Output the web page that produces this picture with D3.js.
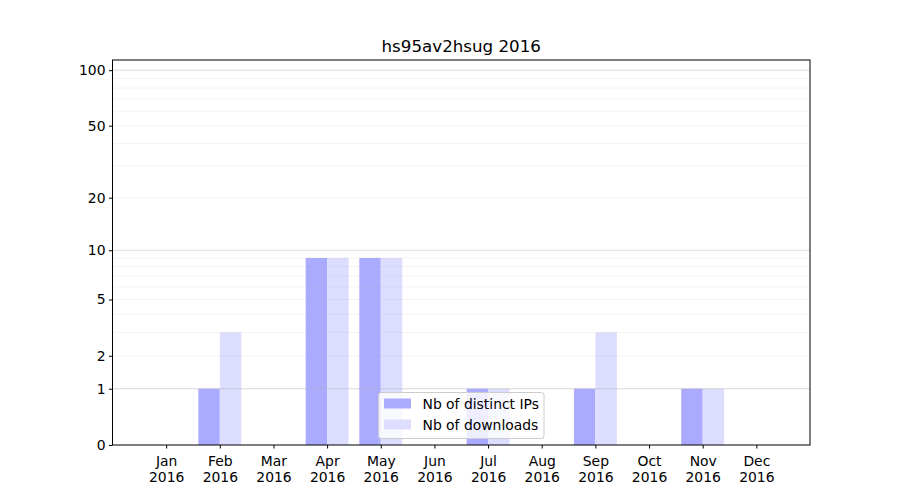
<!DOCTYPE html>
<html><head><meta charset="utf-8">
<script src="https://cdn.jsdelivr.net/npm/d3@7"></script>
<style>body{margin:0;background:#fff;} svg{font-family:"DejaVu Sans",sans-serif;}</style>
</head><body><svg id="c" width="900" height="500"></svg>
<script>
const months = ["Jan\n2016","Feb\n2016","Mar\n2016","Apr\n2016","May\n2016","Jun\n2016","Jul\n2016","Aug\n2016","Sep\n2016","Oct\n2016","Nov\n2016","Dec\n2016"];
const distinctIPs = [0,1,0,9,9,0,1,0,1,0,1,0];
const downloads   = [0,3,0,9,9,0,1,0,3,0,1,0];
const yTicks = [0,1,2,5,10,20,50,100];
const majorGrid = [1,10,100];
const minorGrid = [2,3,4,5,6,7,8,9,20,30,40,50,60,70,80,90];
const seriesNames = ["Nb of distinct IPs","Nb of downloads"];
const colors = ["#aaaaff","#ddddff"];
const title = "hs95av2hsug 2016";

const svg = d3.select("#c");
const L=112.5,R=810,T=60,B=445;
const x = d3.scaleLinear().domain([-1,12]).range([L,R]);
const y = d3.scaleSymlog().constant(1).domain([0,113.5]).range([B,T]);
const step = x(1)-x(0), bw = step*0.4;

const g = svg.append("g");
[distinctIPs, downloads].forEach((arr,si)=>{
  g.selectAll(null).data(arr).enter().append("rect")
   .attr("x",(d,i)=>x(i)+(si===0?-bw:0))
   .attr("width",bw)
   .attr("y",d=>y(d)).attr("height",d=>B-y(d))
   .attr("fill",colors[si]);
});
g.selectAll(null).data(minorGrid).enter().append("line")
 .attr("x1",L).attr("x2",R).attr("y1",d=>y(d)).attr("y2",d=>y(d))
 .attr("stroke","#b0b0b0").attr("stroke-opacity",0.2).attr("stroke-width",0.8);
g.selectAll(null).data(majorGrid).enter().append("line")
 .attr("x1",L).attr("x2",R).attr("y1",d=>y(d)).attr("y2",d=>y(d))
 .attr("stroke","#b0b0b0").attr("stroke-opacity",0.6).attr("stroke-width",0.8);

svg.append("rect").attr("x",L).attr("y",T).attr("width",R-L).attr("height",B-T)
 .attr("fill","none").attr("stroke","#000").attr("stroke-width",1);

const ya = svg.append("g").attr("transform",`translate(${L},0)`)
 .call(d3.axisLeft(y).tickValues(yTicks).tickFormat(d3.format("d")).tickSize(3.5).tickPadding(3.5));
ya.select(".domain").remove();
ya.selectAll("text").attr("font-size","13.9px").attr("fill","#000").style("font-family","DejaVu Sans");
ya.selectAll("line").attr("stroke","#000");

const xa = svg.append("g").attr("transform",`translate(0,${B})`)
 .call(d3.axisBottom(x).tickValues(d3.range(12)).tickSize(3.5).tickFormat(""));
xa.select(".domain").remove();
xa.selectAll("line").attr("stroke","#000");
xa.selectAll(".tick").each(function(d){
  const t = d3.select(this).append("text").attr("fill","#000").attr("text-anchor","middle")
    .attr("font-size","13.9px").style("font-family","DejaVu Sans");
  months[d].split("\n").forEach((s,k)=>t.append("tspan").attr("x",0).attr("y",20.5+k*16).text(s));
});

svg.append("text").attr("x",(L+R)/2).attr("y",52).attr("text-anchor","middle")
 .attr("font-size","16.7px").attr("fill","#000").text(title);

const lg = svg.append("g").attr("transform","translate(378.5,392.5)");
lg.append("rect").attr("width",165.5).attr("height",46).attr("rx",2.5)
 .attr("fill","#fff").attr("fill-opacity",0.8).attr("stroke","#cccccc");
seriesNames.forEach((n,i)=>{
  lg.append("rect").attr("x",5.5).attr("y",6+i*21).attr("width",27).attr("height",10).attr("fill",colors[i]);
  lg.append("text").attr("x",44).attr("y",16+i*21).attr("font-size","13.9px").attr("fill","#000").text(n);
});
</script></body></html>
